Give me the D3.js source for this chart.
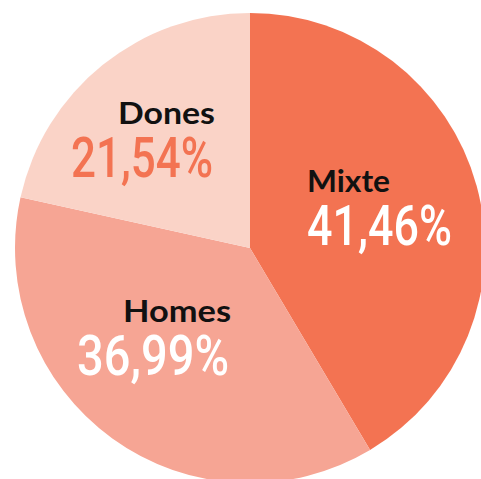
<!DOCTYPE html>
<html>
<head>
<meta charset="utf-8">
<script src="https://cdn.jsdelivr.net/npm/d3@7"></script>
<style>
  body { margin: 0; background: #fff; }
  .lbl { font-family: Lato, "Open Sans", sans-serif; font-weight: 700; fill: #111; }
  .pct { font-family: Roboto, "Liberation Sans", sans-serif; font-weight: 500; }
</style>
</head>
<body>
<div id="chart"></div>
<script>
var categories = ["Mixte", "Homes", "Dones"];
var values = [41.46, 36.99, 21.54];
var pctLabels = ["41,46%", "36,99%", "21,54%"];
var colors = ["#f37352", "#f6a594", "#fad3c7"];
var pctColors = ["#ffffff", "#ffffff", "#f37352"];

var width = 481, height = 479;
var cx = 250, cy = 248, radius = 235;

var svg = d3.select("#chart")
    .append("svg")
    .attr("width", width)
    .attr("height", height);

var g = svg.append("g")
    .attr("transform", "translate(" + cx + "," + cy + ")");

var data = categories.map(function(c, i){
    return {name: c, value: values[i], pct: pctLabels[i], color: colors[i], pctColor: pctColors[i]};
});

var pie = d3.pie()
    .sort(null)
    .value(function(d){ return d.value; });

var arc = d3.arc()
    .innerRadius(0)
    .outerRadius(radius);

g.selectAll(".slice")
    .data(pie(data))
    .enter().append("path")
    .attr("class", "slice")
    .attr("d", arc)
    .attr("fill", function(d){ return d.data.color; });

// label placement (relative to pie center), anchor and fitted widths
var labelPos = {
    "Mixte": {x: 57, y: -56, py: -3, anchor: "start", lw: 83, pw: 145},
    "Homes": {x: -19, y: 74, py: 127, anchor: "end", lw: 108, pw: 152},
    "Dones": {x: -35, y: -124, py: -71, anchor: "end", lw: 97, pw: 142}
};

data.forEach(function(d){
    var p = labelPos[d.name];
    g.append("text")
        .attr("class", "lbl")
        .attr("x", p.x)
        .attr("y", p.y)
        .attr("text-anchor", p.anchor)
        .attr("font-size", 30)
        .attr("textLength", p.lw)
        .attr("lengthAdjust", "spacingAndGlyphs")
        .text(d.name);
    g.append("text")
        .attr("class", "pct")
        .attr("x", p.anchor == "end" ? p.x - 2 : p.x)
        .attr("y", p.py)
        .attr("text-anchor", p.anchor)
        .attr("font-size", 56)
        .attr("fill", d.pctColor)
        .attr("textLength", p.pw)
        .attr("lengthAdjust", "spacingAndGlyphs")
        .text(d.pct);
});
</script>
</body>
</html>
